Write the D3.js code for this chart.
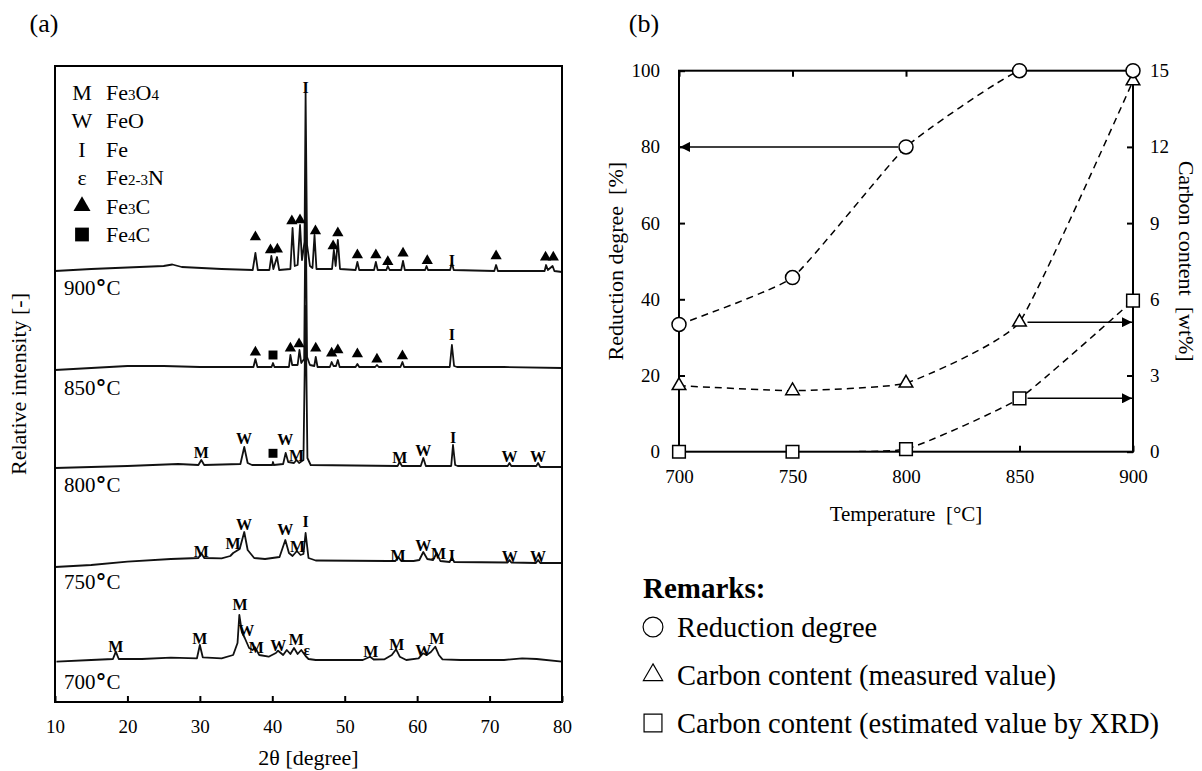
<!DOCTYPE html>
<html>
<head>
<meta charset="utf-8">
<script src="https://cdn.jsdelivr.net/npm/d3@7"></script>
<style>
  body { margin: 0; background: #fff; }
  svg, svg text { font-family: "Liberation Serif", "Times New Roman", serif; }
</style>
</head>
<body>
<svg id="chart" width="1202" height="771"></svg>
<script>
// ---------- (a) XRD patterns ----------
const twoThetaTicks = [10, 20, 30, 40, 50, 60, 70, 80];
const sampleTemps = ["900", "850", "800", "750", "700"];
const traceOffsets = [432, 335, 236, 139, 42];        // baseline of each pattern (a.u.)
const tempLabelOffsets = [-18, -21, -19, -19, -22];   // label position under each baseline

// [2theta, intensity above baseline]
const pattern900 = [[10,-1],[15,1],[20,2.5],[25,4],[26.2,5.5],[27.5,3],[33,1],[37.3,0],[37.67,17],[38,0],
  [39.6,0],[39.87,14],[40.15,1],[40.65,13],[40.95,0],[42.5,1],[42.8,42],[43.1,4],[43.5,5],[43.83,45],[44.1,10],
  [44.45,28],[44.6,177],[44.8,25],[45.2,4],[45.55,2],[45.83,35],[46.1,1],[48.25,1],[48.5,20],[48.75,4],[49.05,30],
  [49.35,1],[51.5,0],[51.75,8],[52,0],[54.05,0],[54.3,8],[54.55,0],[55.75,0],[55.95,4],[56.2,0],[57.8,0],[58.05,9],
  [58.3,0],[61.1,0],[61.3,4],[61.5,0],[64.55,0],[64.8,7],[65.05,0],[70.65,-1],[70.9,5],[71.15,-1],[77.6,-1],
  [77.8,5],[78.05,0],[78.7,4],[78.95,-1],[80,-2]];
const pattern850 = [[10,-3],[15,-1],[20,1],[25,1],[30,0],[37.4,0],[37.67,8],[37.95,0],[39.9,0],[40.1,4],[40.3,0],
  [42.3,0],[42.5,12],[42.75,2],[43.5,2],[43.75,17],[44,4],[44.4,8],[44.6,170],[44.8,10],[45.2,2],[45.8,1],[46,10],
  [46.25,0],[47.95,0],[48.2,5],[48.45,1],[48.8,1],[49.05,7],[49.3,0],[51.5,0],[51.75,3],[52,0],[54.2,0],[54.45,2],
  [54.7,0],[57.7,0],[57.97,5],[58.2,0],[64.5,0],[64.8,22],[65.1,1],[65.5,0],[72,0],[80,-1]];
const pattern800 = [[10,-2],[20,0],[27,2],[29.8,1],[30.2,6],[30.6,1],[35.6,2],[36.13,19],[36.6,3],[37.2,1],[40,1],
  [40.1,4],[40.2,1],[41.5,2],[41.85,13],[42.2,4],[43,3],[43.35,6],[43.7,3],[44.3,6],[44.6,160],[44.85,8],[45.3,1],
  [57.3,0],[57.6,4],[57.9,0],[60.5,0],[60.85,8],[61.2,0],[64.7,0],[64.95,21],[65.25,1],[65.6,0],[72.5,0],[72.75,3],
  [73,0],[76.45,0],[76.7,3],[77,-1],[80,-1]];
const pattern750 = [[10,-4],[15,-2],[20,1.3],[26,4],[29.8,5],[30.2,9.7],[30.6,5],[33,4.7],[34.2,7],[34.6,10],
  [35.5,14],[36.13,31],[36.6,13],[37.5,5],[39,4],[41,6],[41.8,23],[42.3,10],[42.8,7],[43.4,12],[43.9,8],[44.3,9],
  [44.6,30],[45,5],[46,2.5],[56,2],[57,2],[57.4,6],[57.8,2],[59.5,2],[60.3,3],[60.85,11],[61.4,4],[62.2,3],
  [62.7,10],[63.2,2],[64.5,1],[64.8,6],[65.1,1],[72.5,0.5],[72.75,3],[73,0.5],[76.4,0],[76.7,3],[77,0],[80,0]];
const pattern700 = [[10.2,-1.7],[15,0],[18,1],[18.4,8.3],[18.8,1],[22,1],[26,2.3],[29.6,1.7],[30,15],[30.4,2.7],
  [33,1.7],[34.6,5],[35.2,17],[35.45,45],[35.8,28],[36.2,22],[36.8,12],[37.3,10],[37.6,12.7],[38.2,5],[39.5,3.3],
  [40.5,7],[40.8,9.3],[41.5,5],[42,10],[42.5,6],[43,12],[43.5,6],[44,10],[44.6,4],[45,1],[46,0],[52.5,0],[53.5,3.3],
  [54,0.5],[55.5,0.7],[56.5,5],[57.1,10.7],[57.6,3.3],[58.5,0],[60.2,1.7],[60.8,6.7],[61.3,5],[61.9,8],[62.5,13.3],
  [63,5],[63.5,0.7],[66,0],[72,0],[74.5,1.7],[76.5,1],[80,-1.7]];

// peak identifications: [phase, 2theta, height above baseline]
const peaks900 = [["tri",37.67,33],["tri",39.75,20],["tri",40.7,20.7],["tri",42.7,49],["tri",43.83,50],
  ["tri",45.96,39],["tri",48.4,24],["tri",49.05,37],["tri",51.75,15],["tri",54.3,15],["tri",55.95,8.3],
  ["tri",58.05,16.7],["tri",61.4,9.3],["I",64.8,10],["tri",70.9,14],["tri",77.73,12.7],["tri",78.8,12.7],["I",44.6,183]];
const peaks850 = [["tri",37.67,14.7],["sq",40.1,12],["tri",42.5,18.7],["tri",43.7,23],["tri",46,18.7],
  ["tri",48.2,13.7],["tri",49.05,17],["tri",51.75,13],["tri",54.45,7.7],["tri",57.97,11],["I",64.8,33]];
const peaks800 = [["M",30.2,13.3],["W",36.1,27.7],["sq",40.1,12.7],["W",41.8,26.7],["M",43.35,11],["M",57.6,8.7],
  ["W",60.85,15.3],["I",64.95,28.7],["W",72.75,9.3],["W",76.7,9.3]];
const peaks750 = [["M",30.2,11.3],["M",34.6,19.7],["W",36.1,38.7],["W",41.8,34],["M",43.5,16.3],["I",44.6,41.3],
  ["M",57.36,8],["W",60.85,18],["M",62.95,9.7],["I",64.8,8],["W",72.8,6.3],["W",76.7,6.3]];
const peaks700 = [["M",18.38,14],["M",30,21.7],["M",35.55,56],["W",36.4,29.5],["M",37.8,13],["W",40.83,15],
  ["M",43.3,20.7],["e",44.75,10.7],["M",53.6,8.3],["M",57.2,16],["W",60.85,9.3],["M",62.7,21.7]];

const phaseKeys = ["M", "W", "I", "e", "tri", "sq"];
const phaseNames = ["Fe3O4", "FeO", "Fe", "Fe2-3N", "Fe3C", "Fe4C"];

// ---------- (b) reduction degree / carbon content ----------
const temperatures = [700, 750, 800, 850, 900];
const reductionDegree = [33.4, 45.7, 80, 100, 100];
const carbonMeasured = [2.6, 2.4, 2.7, 5.1, 14.6];
const carbonXRD = [0, 0, 0.1, 2.1, 5.95];
const reductionTicks = [0, 20, 40, 60, 80, 100];
const carbonTicks = [0, 3, 6, 9, 12, 15];
const remarkLabels = ["Reduction degree", "Carbon content (measured value)", "Carbon content (estimated value by XRD)"];

const serif = '"Liberation Serif", "Times New Roman", serif';
const svg = d3.select("#chart");
const patterns = [pattern900, pattern850, pattern800, pattern750, pattern700];
const peakSets = [peaks900, peaks850, peaks800, peaks750, peaks700];

// ================= panel (a) =================
const A = { left: 55, right: 562, top: 66, bottom: 702 };
const xA = d3.scaleLinear().domain([10, 80]).range([A.left, A.right]);
const yA = d3.scaleLinear().domain([0, 636]).range([A.bottom, A.top]);

svg.append("text").attr("x", 44).attr("y", 23).attr("dy", "0.35em")
  .attr("text-anchor", "middle").style("font-size", "26px").text("(a)");

svg.append("defs").append("clipPath").attr("id", "clipA")
  .append("rect").attr("x", A.left).attr("y", A.top)
  .attr("width", A.right - A.left).attr("height", A.bottom - A.top);

const gA = svg.append("g");

// patterns
patterns.forEach((pts, i) => {
  const line = d3.line()
    .x(d => xA(d[0]))
    .y(d => yA(traceOffsets[i] + d[1]));
  gA.append("path")
    .datum(pts)
    .attr("clip-path", "url(#clipA)")
    .attr("d", line)
    .attr("fill", "none")
    .attr("stroke", "#111")
    .attr("stroke-width", 1.8)
    .attr("stroke-linejoin", "round");
});

// peak labels
function drawPhase(g, kind, x, y, big) {
  if (kind === "tri") {
    g.append("path").attr("transform", `translate(${x},${y})`)
      .attr("d", d3.symbol(d3.symbolTriangle, big ? 125 : 55)()).attr("fill", "#000");
  } else if (kind === "sq") {
    g.append("path").attr("transform", `translate(${x},${y})`)
      .attr("d", d3.symbol(d3.symbolSquare, big ? 190 : 80)()).attr("fill", "#000");
  } else {
    g.append("text").attr("x", x).attr("y", y).attr("dy", "0.35em")
      .attr("text-anchor", "middle")
      .style("font-size", big ? "22px" : (kind === "e" ? "15px" : "16px"))
      .style("font-weight", big ? "normal" : "bold")
      .text(kind === "e" ? "ε" : kind);
  }
}

peakSets.forEach((set, i) => {
  set.forEach(p => drawPhase(gA, p[0], xA(p[1]), yA(traceOffsets[i] + p[2]), false));
});

// temperature labels
sampleTemps.forEach((t, i) => {
  const txt = gA.append("text")
    .attr("x", 64).attr("y", yA(traceOffsets[i] + tempLabelOffsets[i])).attr("dy", "0.35em")
    .style("font-size", "21px");
  txt.append("tspan").text(t);
  txt.append("tspan").style("font-family", "DejaVu Sans").style("font-weight", "bold")
    .style("font-size", "22px").text("°");
  txt.append("tspan").text("C");
});

// legend
phaseKeys.forEach((k, i) => {
  const y = 92 + i * 28.5;
  drawPhase(gA, k, 82, y, true);
  const t = gA.append("text").attr("x", 106).attr("y", y).attr("dy", "0.35em").style("font-size", "22px");
  phaseNames[i].split(/(\d[\d-]*)/).filter(s => s.length).forEach(s => {
    t.append("tspan").style("font-size", /\d/.test(s) ? "15px" : "22px").text(s);
  });
});

// frame and x axis
gA.append("rect").attr("x", A.left).attr("y", A.top)
  .attr("width", A.right - A.left).attr("height", A.bottom - A.top)
  .attr("fill", "none").attr("stroke", "#000").attr("stroke-width", 2);

function styleAxis(g, size) {
  g.attr("font-family", serif).attr("font-size", null);
  g.select(".domain").remove();
  g.selectAll("line").attr("stroke-width", 2);
  g.selectAll("text").style("font-size", size).style("font-family", serif);
}

styleAxis(gA.append("g").attr("transform", `translate(0,${A.bottom})`)
  .call(d3.axisBottom(xA).tickValues(twoThetaTicks).tickSizeInner(-6).tickSizeOuter(0).tickPadding(18)), "19px");

svg.append("text").attr("x", (A.left + A.right) / 2).attr("y", 757).attr("dy", "0.35em")
  .attr("text-anchor", "middle").style("font-size", "22px").text("2θ [degree]");
svg.append("text").attr("transform", `translate(18,${(A.top + A.bottom) / 2}) rotate(-90)`)
  .attr("dy", "0.35em").attr("text-anchor", "middle").style("font-size", "22px")
  .text("Relative intensity [-]");

// ================= panel (b) =================
const B = { left: 679, right: 1133, top: 70.7, bottom: 451.7 };
const xB = d3.scaleLinear().domain([700, 900]).range([B.left, B.right]);
const yL = d3.scaleLinear().domain([0, 100]).range([B.bottom, B.top]);
const yR = d3.scaleLinear().domain([0, 15]).range([B.bottom, B.top]);

svg.append("text").attr("x", 644).attr("y", 23).attr("dy", "0.35em")
  .attr("text-anchor", "middle").style("font-size", "26px").text("(b)");

svg.select("defs").append("clipPath").attr("id", "clipB")
  .append("rect").attr("x", B.left).attr("y", B.top)
  .attr("width", B.right - B.left).attr("height", B.bottom - B.top);

const arrowDef = svg.select("defs").append("marker").attr("id", "arrow")
  .attr("viewBox", "0 0 10 10").attr("refX", 10).attr("refY", 5)
  .attr("markerWidth", 10).attr("markerHeight", 10)
  .attr("markerUnits", "userSpaceOnUse").attr("orient", "auto");
arrowDef.append("path").attr("d", "M0,0L10,5L0,10Z").attr("fill", "#000");

const gB = svg.append("g");

const series = [
  { values: reductionDegree, y: yL, shape: "circle" },
  { values: carbonMeasured, y: yR, shape: "triangle" },
  { values: carbonXRD, y: yR, shape: "square" }
];

series.forEach(s => {
  const line = d3.line()
    .x((d, i) => xB(temperatures[i]))
    .y(d => s.y(d))
    .curve(d3.curveCardinal.tension(0.6));
  gB.append("path").datum(s.values)
    .attr("clip-path", "url(#clipB)")
    .attr("d", line).attr("fill", "none").attr("stroke", "#000")
    .attr("stroke-width", 1.5).attr("stroke-dasharray", "7,5");
});

// frame and axes
gB.append("rect").attr("x", B.left).attr("y", B.top)
  .attr("width", B.right - B.left).attr("height", B.bottom - B.top)
  .attr("fill", "none").attr("stroke", "#000").attr("stroke-width", 2);

styleAxis(gB.append("g").attr("transform", `translate(0,${B.bottom})`)
  .call(d3.axisBottom(xB).tickValues(temperatures).tickSizeInner(-6).tickSizeOuter(0).tickPadding(18)), "19px");
styleAxis(gB.append("g").attr("transform", `translate(0,${B.top})`)
  .call(d3.axisTop(xB).tickValues(temperatures).tickSizeInner(-6).tickSizeOuter(0).tickFormat("")), "19px");
styleAxis(gB.append("g").attr("transform", `translate(${B.left},0)`)
  .call(d3.axisLeft(yL).tickValues(reductionTicks).tickSizeInner(-6).tickSizeOuter(0).tickPadding(19)), "19px");
styleAxis(gB.append("g").attr("transform", `translate(${B.right},0)`)
  .call(d3.axisRight(yR).tickValues(carbonTicks).tickSizeInner(-6).tickSizeOuter(0).tickPadding(17)), "19px");

// markers
function marker(g, shape, x, y, scale) {
  const sizes = { circle: 154, triangle: 80, square: 160 };
  const types = { circle: d3.symbolCircle, triangle: d3.symbolTriangle, square: d3.symbolSquare };
  g.append("path").attr("transform", `translate(${x},${y})`)
    .attr("d", d3.symbol(types[shape], sizes[shape] * scale)())
    .attr("fill", "#fff").attr("stroke", "#000").attr("stroke-width", scale > 1 ? 1.2 : 1.5);
}
series.slice().reverse().forEach(s => {
  s.values.forEach((v, i) => marker(gB, s.shape, xB(temperatures[i]), s.y(v), 1));
});

// arrows pointing to the axis each series belongs to
const arrows = [
  { s: 0, t: 800, side: "left", gap: 8 },
  { s: 1, t: 850, side: "right", gap: 8 },
  { s: 2, t: 850, side: "right", gap: 8 }
];
arrows.forEach(a => {
  const s = series[a.s];
  const i = temperatures.indexOf(a.t);
  const y = s.y(s.values[i]);
  const x0 = xB(a.t) + (a.side === "left" ? -a.gap : a.gap);
  const x1 = a.side === "left" ? B.left + 1 : B.right - 1;
  gB.append("line").attr("x1", x0).attr("x2", x1).attr("y1", y).attr("y2", y)
    .attr("stroke", "#000").attr("stroke-width", 1.5).attr("marker-end", "url(#arrow)");
});

// axis titles
svg.append("text").attr("x", (B.left + B.right) / 2).attr("y", 514).attr("dy", "0.35em")
  .attr("text-anchor", "middle").style("font-size", "21px").style("white-space", "pre")
  .text("Temperature  [°C]");
svg.append("text").attr("transform", `translate(615,${(B.top + B.bottom) / 2}) rotate(-90)`)
  .attr("dy", "0.35em").attr("text-anchor", "middle").style("font-size", "22px")
  .style("white-space", "pre").text("Reduction degree  [%]");
svg.append("text").attr("transform", `translate(1187,${(B.top + B.bottom) / 2}) rotate(90)`)
  .attr("dy", "0.35em").attr("text-anchor", "middle").style("font-size", "22px")
  .style("white-space", "pre").text("Carbon content  [wt%]");

// remarks
svg.append("text").attr("x", 643).attr("y", 588).attr("dy", "0.35em")
  .style("font-size", "29px").style("font-weight", "bold").text("Remarks:");
series.forEach((s, i) => {
  const y = 627 + i * 48;
  marker(svg, s.shape, 653, y, 2);
  svg.append("text").attr("x", 677).attr("y", y).attr("dy", "0.35em")
    .style("font-size", "28.5px").text(remarkLabels[i]);
});
</script>
</body>
</html>
